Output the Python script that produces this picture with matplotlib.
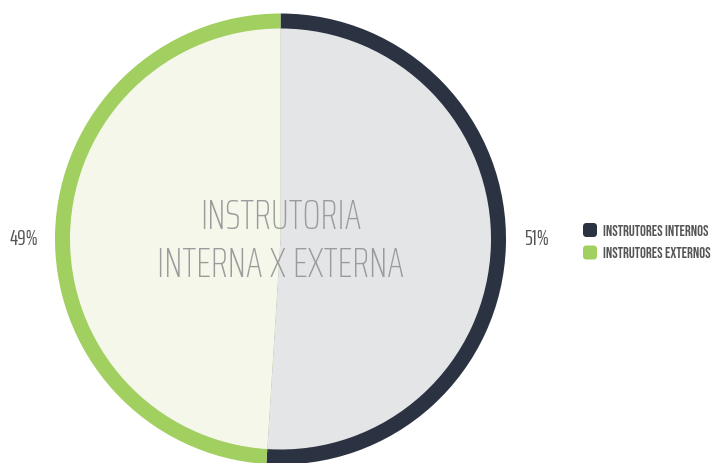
import matplotlib
matplotlib.use("Agg")
import matplotlib.pyplot as plt
from matplotlib.patches import FancyBboxPatch

labels = ["INSTRUTORES INTERNOS", "INSTRUTORES EXTERNOS"]
values = [51, 49]
pct_labels = ["51%", "49%"]
title_lines = ["INSTRUTORIA", "INTERNA X EXTERNA"]

ring_colors = ["#2b3242", "#a1cf60"]
fill_colors = ["#e4e5e7", "#f4f7ea"]

W, H = 717, 464
fig = plt.figure(figsize=(W / 100, H / 100), dpi=100)
cx, cy, r = 280.5, 240, 225.5
ax = fig.add_axes([(cx - r) / W, (H - cy - r) / H, 2 * r / W, 2 * r / H])
ax.set_aspect("equal")
ax.axis("off")

ax.pie(values, colors=ring_colors, startangle=90, counterclock=False,
       radius=1.0, wedgeprops=dict(linewidth=0))
ax.pie(values, colors=fill_colors, startangle=90, counterclock=False,
       radius=1 - 15 / r, wedgeprops=dict(linewidth=0))
ax.set_xlim(-1, 1)
ax.set_ylim(-1, 1)

def fy(py):
    return (H - py) / H

# center title
for line, base in zip(title_lines, [229, 277]):
    fig.text(cx / W, fy(base), line, ha="center", va="baseline", fontsize=30,
             color="#9b9b9b", family="Saira ExtraCondensed", weight=250)

# percentage labels
fig.text(536.5 / W, fy(245.5), pct_labels[0], ha="center", va="baseline",
         fontsize=15.5, color="#555555", family="Saira ExtraCondensed", weight=400)
fig.text(24 / W, fy(245.5), pct_labels[1], ha="center", va="baseline",
         fontsize=15.5, color="#555555", family="Saira ExtraCondensed", weight=400)

# legend
for i, (lab, col) in enumerate(zip(labels, ring_colors)):
    yc = 231 + i * 22.5
    box = FancyBboxPatch((583 / W, fy(yc + 7)), 14 / W, 14 / H,
                         boxstyle="round,pad=0,rounding_size=0.005",
                         transform=fig.transFigure, facecolor=col,
                         edgecolor="none", mutation_aspect=W / H)
    fig.patches.append(box)
    fig.text(603 / W, fy(yc + 5), lab, ha="left", va="baseline",
             fontsize=10.5, color="#555555", family="Bebas Neue")

fig.savefig("out.png", dpi=100)
